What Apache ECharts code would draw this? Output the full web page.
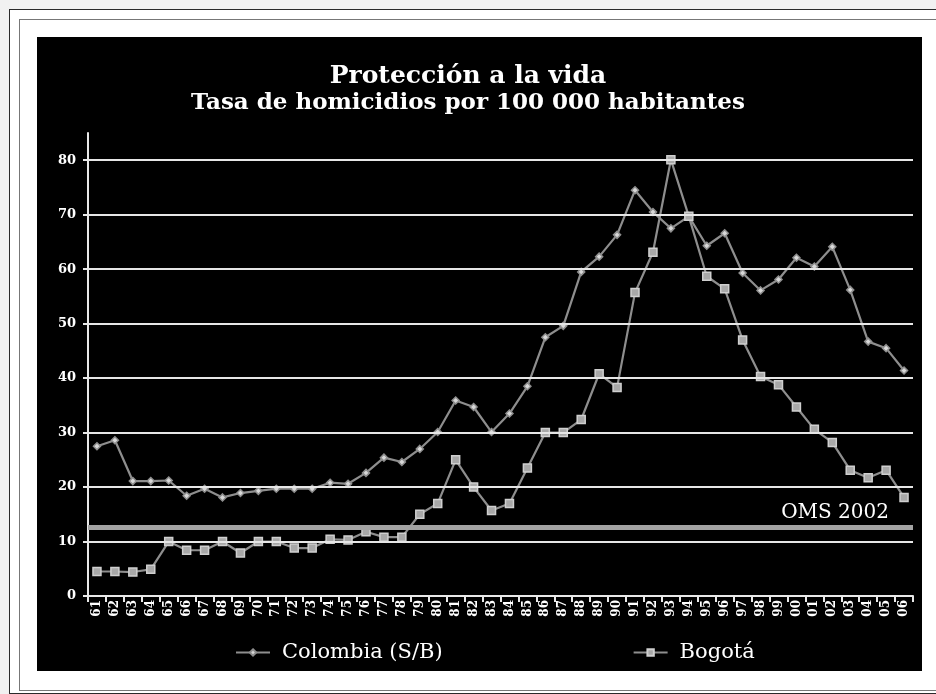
<!DOCTYPE html>
<html>
<head>
<meta charset="utf-8">
<script src="https://cdn.jsdelivr.net/npm/echarts@6/dist/echarts.min.js"></script>
<style>
  html, body { margin: 0; padding: 0; background: #f1f1f1; }
  #page { position: absolute; left: 0; top: 0; width: 936px; height: 694px; overflow: hidden; background: #f1f1f1; }
  #outer { position: absolute; left: 9px; top: 9px; width: 940px; height: 683px; border: 1.5px solid #2a2a2a; background: #ffffff; }
  #inner { position: absolute; left: 19px; top: 19px; width: 930px; height: 670px; border: 1px solid #777; background: #ffffff; }
  #panel { position: absolute; left: 37px; top: 37px; width: 885px; height: 634px; background: #000; }
  #chart { position: absolute; left: 0; top: 0; width: 936px; height: 694px; }
</style>
</head>
<body>
<div id="page">
  <div id="outer"></div>
  <div id="inner"></div>
  <div id="panel"></div>
  <div id="chart"></div>
</div>
<script>
// ---- data ----
const years = ['61','62','63','64','65','66','67','68','69','70',
               '71','72','73','74','75','76','77','78','79','80',
               '81','82','83','84','85','86','87','88','89','90',
               '91','92','93','94','95','96','97','98','99','00',
               '01','02','03','04','05','06'];
const colombia = [27.5,28.6,21.1,21.1,21.2,18.4,19.7,18.1,18.9,19.3,
                  19.7,19.7,19.7,20.8,20.6,22.6,25.4,24.6,27.0,30.1,
                  35.9,34.7,30.1,33.5,38.5,47.5,49.6,59.5,62.3,66.3,
                  74.5,70.5,67.5,69.7,64.3,66.6,59.3,56.1,58.1,62.1,
                  60.5,64.1,56.2,46.7,45.5,41.4];
const bogota = [4.5,4.5,4.4,4.9,10.0,8.4,8.4,10.0,7.9,10.0,
                10.0,8.8,8.8,10.4,10.3,11.8,10.8,10.8,15.0,17.0,
                25.0,20.0,15.7,17.0,23.5,30.0,30.0,32.4,40.8,38.3,
                55.7,63.1,80.1,69.7,58.7,56.4,47.0,40.3,38.8,34.7,
                30.6,28.2,23.1,21.7,23.1,18.1];
const gridValues = [10,20,30,40,50,60,70,80];
const omsValue = 12.7;
const omsLabel = 'OMS 2002';
const titleText = 'Protección a la vida';
const subtitleText = 'Tasa de homicidios por 100 000 habitantes';
const seriesNames = ['Colombia (S/B)', 'Bogotá'];

const serif = "'DejaVu Serif', 'Liberation Serif', serif";
const chart = echarts.init(document.getElementById('chart'), null, {renderer: 'canvas'});

chart.setOption({
  backgroundColor: 'transparent',
  animation: false,
  title: [
    { text: titleText, left: 'center', top: 59,
      textStyle: { color: '#fff', fontFamily: serif, fontWeight: 'bold', fontSize: 25 } },
    { text: subtitleText, left: 'center', top: 87,
      textStyle: { color: '#fff', fontFamily: serif, fontWeight: 'bold', fontSize: 23 } }
  ],
  legend: {
    left: 235, top: 642, padding: 0,
    itemWidth: 34, itemHeight: 8, itemGap: 190,
    textStyle: { color: '#fff', fontFamily: serif, fontSize: 21, padding: [0,0,0,7] },
    data: seriesNames
  },
  grid: { left: 88, right: 23, top: 133, bottom: 98, containLabel: false },
  xAxis: {
    type: 'category', data: years, boundaryGap: true,
    axisLine: { lineStyle: { color: '#e8e8e8', width: 2 } },
    axisTick: { show: true, length: 6, lineStyle: { color: '#e8e8e8', width: 2 } },
    axisLabel: { color: '#fff', fontFamily: serif, fontWeight: 'bold', fontSize: 12, rotate: 90, margin: 4, interval: 0 },
    splitLine: { show: false }
  },
  yAxis: {
    type: 'value', min: 0, max: 85, interval: 10,
    axisLine: { show: true, lineStyle: { color: '#e8e8e8', width: 2 } },
    axisTick: { show: true, length: 5, lineStyle: { color: '#e8e8e8', width: 2 } },
    axisLabel: { color: '#fff', fontFamily: serif, fontWeight: 'bold', fontSize: 13, margin: 12, showMaxLabel: false },
    splitLine: { show: false }
  },
  series: [
    {
      name: '_grid', type: 'line', data: [], z: 1, silent: true,
      markLine: {
        silent: true, symbol: 'none', animation: false,
        lineStyle: { color: '#e6e6e6', width: 2, type: 'solid' },
        label: { show: false },
        data: gridValues.map(v => ({ yAxis: v }))
      }
    },
    {
      name: '_oms', type: 'line', data: [], z: 1, silent: true,
      markLine: {
        silent: true, symbol: 'none', animation: false,
        lineStyle: { color: '#a3a3a3', width: 5, type: 'solid' },
        label: { show: true, position: 'insideEndTop', formatter: omsLabel,
                 color: '#fff', fontFamily: serif, fontSize: 20, distance: [24, 4] },
        data: [{ yAxis: omsValue }]
      }
    },
    {
      name: seriesNames[0], type: 'line', data: colombia, z: 3,
      symbol: 'diamond', symbolSize: 7, showSymbol: true,
      lineStyle: { color: '#8e8e8e', width: 2.2 },
      itemStyle: { color: '#d8d8d8', borderColor: '#8e8e8e', borderWidth: 1.5 }
    },
    {
      name: seriesNames[1], type: 'line', data: bogota, z: 3,
      symbol: 'rect', symbolSize: 8, showSymbol: true,
      lineStyle: { color: '#8e8e8e', width: 2.2 },
      itemStyle: { color: '#a8a8a8', borderColor: '#cfcfcf', borderWidth: 1.5 }
    }
  ]
});
</script>
</body>
</html>
